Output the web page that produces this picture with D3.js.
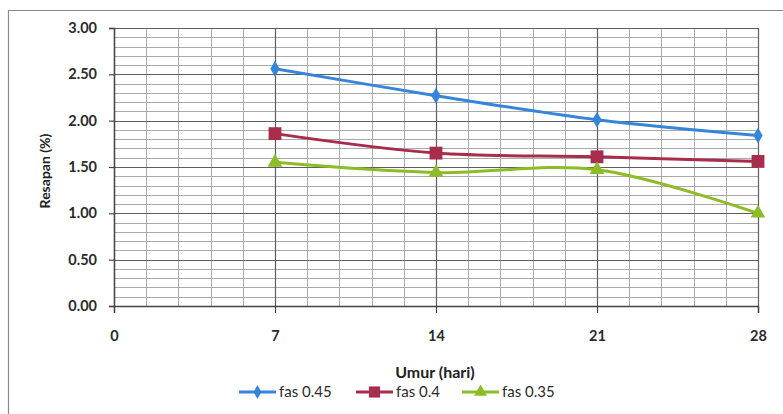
<!DOCTYPE html>
<html>
<head>
<meta charset="utf-8">
<script src="https://cdn.jsdelivr.net/npm/d3@7"></script>
<style>
  html, body { margin: 0; padding: 0; background: #fff; }
  svg { display: block; font-family: Lato, "Open Sans", sans-serif; }
</style>
</head>
<body>
<svg id="chart" width="783" height="414"></svg>
<script>
// Umur (hari) on the x axis
const days = [7, 14, 21, 28];
// Resapan (%) per water-cement ratio
const fas045 = [2.56, 2.27, 2.01, 1.84];
const fas040 = [1.86, 1.65, 1.61, 1.56];
const fas035 = [1.55, 1.44, 1.47, 1.00];
const seriesNames = ["fas 0.45", "fas 0.4", "fas 0.35"];
const xTicks = [0, 7, 14, 21, 28];
const yTicks = [0, 0.5, 1, 1.5, 2, 2.5, 3];

const series = [
  { name: seriesNames[0], values: fas045, color: "#3586da", marker: d3.symbolDiamond, size: 75 },
  { name: seriesNames[1], values: fas040, color: "#a82c4c", marker: d3.symbolSquare, size: 165 },
  { name: seriesNames[2], values: fas035, color: "#8cbc26", marker: d3.symbolTriangle, size: 95 }
];

const svg = d3.select("#chart");
const m = { left: 114, right: 783 - 758, top: 28, bottom: 414 - 306 };
const W = 783 - m.left - m.right, H = 414 - m.top - m.bottom;

// outer chart frame (continues past the right and bottom edges)
svg.append("path")
  .attr("d", "M8.5,420 V10.5 H790")
  .attr("fill", "none").attr("stroke", "#8a8a8a").attr("stroke-width", 1.2);

const x = d3.scaleLinear().domain([0, 28]).range([0, W]);
const y = d3.scaleLinear().domain([0, 3]).range([H, 0]);

const g = svg.append("g").attr("transform", `translate(${m.left},${m.top})`);

// minor grid
const minorY = d3.range(0, 3.0001, 0.1);
const minorX = d3.range(0, 28.0001, 1.4);
g.append("g").selectAll("line").data(minorY).join("line")
  .attr("x1", 0).attr("x2", W)
  .attr("y1", d => Math.round(y(d)) + 0.5).attr("y2", d => Math.round(y(d)) + 0.5)
  .attr("stroke", "#a9a9a9").attr("stroke-width", 1);
g.append("g").selectAll("line").data(minorX).join("line")
  .attr("y1", 0).attr("y2", H)
  .attr("x1", d => Math.round(x(d)) + 0.5).attr("x2", d => Math.round(x(d)) + 0.5)
  .attr("stroke", "#a9a9a9").attr("stroke-width", 1);

// major grid
g.append("g").selectAll("line").data(yTicks).join("line")
  .attr("x1", 0).attr("x2", W)
  .attr("y1", d => Math.round(y(d)) + 0.5).attr("y2", d => Math.round(y(d)) + 0.5)
  .attr("stroke", "#5e5e5e").attr("stroke-width", 1.2);
g.append("g").selectAll("line").data(xTicks).join("line")
  .attr("y1", 0).attr("y2", H)
  .attr("x1", d => Math.round(x(d)) + 0.5).attr("x2", d => Math.round(x(d)) + 0.5)
  .attr("stroke", "#5e5e5e").attr("stroke-width", 1.2);

// axes
const yAxis = g.append("g")
  .call(d3.axisLeft(y).tickValues(yTicks).tickFormat(d3.format(".2f")).tickSize(5).tickPadding(12));
const xAxis = g.append("g").attr("transform", `translate(0,${H})`)
  .call(d3.axisBottom(x).tickValues(xTicks).tickFormat(d3.format("d")).tickSize(7).tickPadding(18));
[yAxis, xAxis].forEach(a => {
  a.select(".domain").attr("stroke", "#444").attr("stroke-width", 1.4);
  a.selectAll(".tick line").attr("stroke", "#444").attr("stroke-width", 1.2);
  a.selectAll(".tick text").attr("fill", "#2b2b2b").attr("font-size", 14.5)
    .attr("font-weight", "bold").attr("font-family", "Lato, sans-serif");
});

// series lines (smoothed) and markers
const line = d3.line()
  .x((d, i) => x(days[i]))
  .y(d => y(d))
  .curve(d3.curveCardinal.tension(0));

series.forEach(s => {
  g.append("path").datum(s.values)
    .attr("d", line)
    .attr("fill", "none").attr("stroke", s.color).attr("stroke-width", 3);
  g.append("g").selectAll("path").data(s.values).join("path")
    .attr("transform", (d, i) => `translate(${x(days[i])},${y(d)})`)
    .attr("d", d3.symbol().type(s.marker).size(s.size))
    .attr("fill", s.color);
});

// axis titles
svg.append("text")
  .attr("transform", "translate(50,171) rotate(-90)")
  .attr("text-anchor", "middle")
  .attr("font-size", 14).attr("font-weight", "bold").attr("fill", "#222")
  .text("Resapan (%)");
svg.append("text")
  .attr("x", m.left + W / 2 - 1).attr("y", 378)
  .attr("text-anchor", "middle")
  .attr("font-size", 16).attr("font-weight", "bold").attr("fill", "#222")
  .text("Umur (hari)");

// legend
const legendX = [239, 356, 462];
const legend = svg.append("g");
series.forEach((s, i) => {
  const lg = legend.append("g").attr("transform", `translate(${legendX[i]},392)`);
  lg.append("line").attr("x1", 0).attr("x2", 37).attr("y1", 0).attr("y2", 0)
    .attr("stroke", s.color).attr("stroke-width", 3);
  lg.append("path").attr("transform", "translate(18.5,0)")
    .attr("d", d3.symbol().type(s.marker).size(s.size * 0.75)).attr("fill", s.color);
  lg.append("text").attr("x", 40).attr("y", 0).attr("dy", "0.35em")
    .attr("font-size", 15).attr("fill", "#2b2b2b").text(s.name);
});
</script>
</body>
</html>
